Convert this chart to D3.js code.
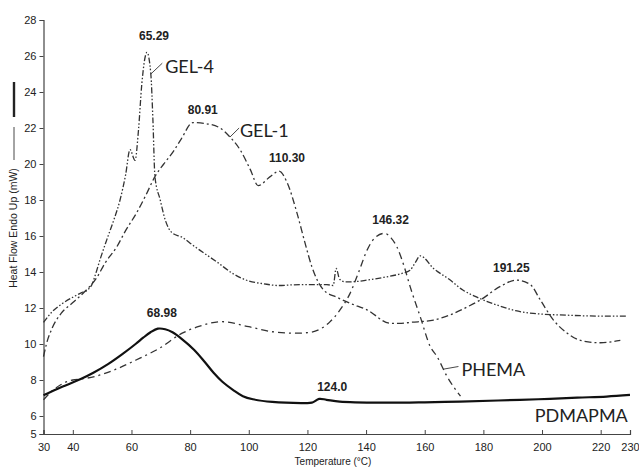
<!DOCTYPE html>
<html>
<head>
<meta charset="utf-8">
<script src="https://cdn.jsdelivr.net/npm/d3@7"></script>
<style>
  html, body { margin: 0; padding: 0; background: #fff; }
  svg { display: block; }
  .tick text { font-family: "Liberation Sans Narrow", "Arial Narrow", "Liberation Sans", Arial, sans-serif; font-size: 11px; fill: #222; }
</style>
</head>
<body>
<svg id="chart" width="639" height="470"></svg>
<script>
// DSC thermograms: temperature (°C) vs heat flow (mW)
const xTicks = [30, 40, 60, 80, 100, 120, 140, 160, 180, 200, 220, 230];
const yTicks = [5, 6, 8, 10, 12, 14, 16, 18, 20, 22, 24, 26, 28];

const gel4 = [
  [30, 11.2], [33, 11.8], [36, 12.2], [40, 12.6], [43, 12.85], [45, 13.0], [46.5, 13.3],
  [47.6, 13.8], [49.5, 14.8], [51.6, 15.8], [54, 16.9], [56.1, 18.0], [58, 19.4], [59.5, 20.8],
  [61.2, 20.2], [62.4, 21.9], [63.5, 24.4], [65.29, 26.2], [66.6, 25.0], [67.3, 22.5],
  [68, 19.3], [69.8, 18.0], [71.5, 16.9], [73.7, 16.2], [77.6, 15.9], [80, 15.6], [83.4, 15.2],
  [89.2, 14.55], [94.7, 13.9], [100, 13.5], [105, 13.35], [110, 13.25], [117.5, 13.3],
  [126.6, 13.3], [128.8, 13.25], [129.8, 14.2], [131, 13.6], [133, 13.45], [135.7, 13.46],
  [140.3, 13.55], [146, 13.7], [151.7, 13.9], [155, 14.1], [156.7, 14.5], [158.5, 14.9],
  [163, 14.2], [168.7, 13.55], [173, 13.0], [177.8, 12.6], [185.8, 12.1], [191, 11.85],
  [197, 11.7], [208.6, 11.6], [220, 11.55], [229, 11.55]
];

const gel1 = [
  [30, 9.3], [31, 10.0], [33, 10.9], [36, 11.7], [40, 12.3], [44, 12.9], [48.2, 13.7],
  [51, 14.5], [55, 15.4], [58, 16.3], [61.8, 17.3], [65, 18.3], [68, 19.3], [71, 20.0],
  [74.3, 20.7], [77, 21.4], [80.91, 22.3], [85, 22.25], [90.2, 22.0], [93.6, 21.5],
  [97, 20.8], [100.5, 19.7], [103.2, 18.8], [107.3, 19.3], [110.3, 19.6], [113, 19.0],
  [116.4, 17.3], [119.2, 15.6], [121.5, 14.3], [123.5, 13.5], [125.5, 13.0], [130, 12.6],
  [134.6, 12.26], [140.3, 11.9], [148.3, 11.15], [152, 11.15], [155, 11.2], [163, 11.33],
  [169.9, 11.7], [175, 12.1], [179, 12.45], [185.8, 13.2], [191.25, 13.55], [196, 13.3],
  [199.4, 12.45], [203.9, 11.33], [208.6, 10.6], [213.1, 10.2], [219.9, 10.07], [226.7, 10.2]
];

const phema = [
  [30, 6.9], [33, 7.4], [36, 7.75], [40, 8.0], [42.7, 8.05], [47.6, 8.2], [54.7, 8.6],
  [62.7, 9.2], [69.4, 9.75], [77.3, 10.6], [82.7, 10.96], [90.7, 11.24], [100, 10.96],
  [108, 10.68], [116, 10.6], [121, 10.65], [124, 10.8], [127.5, 11.2], [130.7, 11.8],
  [134.5, 12.8], [137.5, 14.0], [140.3, 15.2], [143, 15.9], [146.32, 16.15], [148.5, 15.9],
  [150.5, 15.4], [153, 14.3], [155, 13.2], [158.5, 11.5], [161.9, 9.85], [164.2, 9.3],
  [167.6, 8.2], [172.2, 7.1]
];

const pdmapma = [
  [30, 7.15], [36, 7.6], [42.7, 8.05], [47, 8.4], [52, 8.88], [57, 9.45], [61.4, 10.0],
  [64, 10.35], [66.5, 10.65], [68.98, 10.85], [71.5, 10.82], [74, 10.65], [77, 10.3], [81.4, 9.67],
  [85, 9.0], [88, 8.4], [91, 7.9], [94.7, 7.44], [98, 7.1], [101.4, 6.93], [108, 6.78],
  [118.6, 6.72], [121.5, 6.74], [124, 6.95], [126.5, 6.9], [131, 6.8], [145.4, 6.74],
  [160, 6.76], [172, 6.8], [185, 6.86], [198.7, 6.93], [212, 7.02], [222, 7.08], [230, 7.17]
];

// peak temperatures annotated on the curves: [temperature, heat flow of the peak]
const peakLabels = [
  { t: 65.29, v: 26.2, text: "65.29" },
  { t: 80.91, v: 22.3, text: "80.91" },
  { t: 110.30, v: 19.6, text: "110.30" },
  { t: 146.32, v: 16.15, text: "146.32" },
  { t: 191.25, v: 13.55, text: "191.25" },
  { t: 68.98, v: 10.85, text: "68.98" },
  { t: 124.0, v: 6.95, text: "124.0" }
];
const seriesNames = ["GEL-4", "GEL-1", "PHEMA", "PDMAPMA"];

const svg = d3.select("#chart");
svg.append("rect").attr("width", 639).attr("height", 470).attr("fill", "#fff");

const x = d3.scaleLinear().domain([30, 230]).range([43.5, 630]);
const y = d3.scaleLinear().domain([5, 28]).range([434, 20]);

// axes
const xAxis = d3.axisBottom(x).tickValues(xTicks).tickSize(-4).tickPadding(11).tickFormat(d3.format("d"));
const gx = svg.append("g").attr("transform", `translate(0,${y(5)})`).call(xAxis);
const yAxis = d3.axisLeft(y).tickValues(yTicks).tickSize(4).tickPadding(3).tickFormat(d3.format("d"));
const gy = svg.append("g").attr("transform", `translate(${x(30)},0)`).call(yAxis);
[gx, gy].forEach(g => {
  g.select(".domain").attr("stroke", "#444").attr("stroke-width", 1.2);
  g.selectAll(".tick line").attr("stroke", "#444");
});
gx.selectAll(".tick text").attr("dy", "0.5em");

svg.append("text")
  .attr("x", 333).attr("y", 465).attr("text-anchor", "middle")
  .style("font-family", "'Liberation Sans Narrow', 'Arial Narrow', 'Liberation Sans', sans-serif")
  .style("font-size", "10px").attr("fill", "#222")
  .text("Temperature (°C)");

// y title with the heat-flow scale marks
svg.append("text")
  .attr("transform", "translate(17,228) rotate(-90)").attr("text-anchor", "middle")
  .style("font-family", "'Liberation Sans Narrow', 'Arial Narrow', 'Liberation Sans', sans-serif")
  .style("font-size", "10.5px").attr("fill", "#222")
  .text("Heat Flow Endo Up (mW)");
svg.append("line").attr("x1", 14).attr("x2", 14).attr("y1", 127).attr("y2", 160)
  .attr("stroke", "#333").attr("stroke-width", 0.9);
svg.append("line").attr("x1", 14).attr("x2", 14).attr("y1", 82).attr("y2", 117)
  .attr("stroke", "#222").attr("stroke-width", 2.4);

const line = d3.line().x(d => x(d[0])).y(d => y(d[1])).curve(d3.curveMonotoneX);
const smoothLine = d3.line().x(d => x(d[0])).y(d => y(d[1])).curve(d3.curveCatmullRom.alpha(0.5));

const styles = [
  { data: gel4, dash: "6,2,1.5,2,1.5,2", width: 1.3, color: "#333", gen: line },
  { data: gel1, dash: "7,3,2,3", width: 1.3, color: "#333", gen: line },
  { data: phema, dash: "7,4,2,4", width: 1.3, color: "#333", gen: line },
  { data: pdmapma, dash: null, width: 2.2, color: "#111", gen: smoothLine }
];
styles.forEach(s => {
  svg.append("path").datum(s.data).attr("d", s.gen)
    .attr("fill", "none").attr("stroke", s.color).attr("stroke-width", s.width)
    .attr("stroke-dasharray", s.dash).attr("stroke-linejoin", "round");
});

// peak value labels
const labelShift = [[7, -12], [10, -9], [8, -9], [6, -9], [-5, -8], [4, -12], [13, -8]];
svg.append("g").selectAll("text").data(peakLabels).join("text")
  .attr("x", (d, i) => x(d.t) + labelShift[i][0])
  .attr("y", (d, i) => y(d.v) + labelShift[i][1])
  .attr("text-anchor", "middle")
  .style("font-family", "'Liberation Sans Narrow', 'Arial Narrow', 'Liberation Sans', sans-serif")
  .style("font-weight", "bold").style("font-size", "12px").attr("fill", "#222")
  .text(d => d.text);

// series names with leader lines: [leader start t, v], [leader end t, v], text anchor point
const nameSpots = [
  { from: [66.6, 25.0], to: [70.5, 25.6], tx: 71.5, ty: 25.05 },
  { from: [93.6, 21.5], to: [96.7, 22.0], tx: 97.0, ty: 21.5 },
  { from: [166.3, 8.6], to: [171.5, 8.75], tx: 172.5, ty: 8.25 },
  { from: null, to: null, tx: 197.5, ty: 5.65 }
];
nameSpots.forEach((n, i) => {
  if (n.from) {
    svg.append("line")
      .attr("x1", x(n.from[0])).attr("y1", y(n.from[1]))
      .attr("x2", x(n.to[0])).attr("y2", y(n.to[1]))
      .attr("stroke", "#333").attr("stroke-width", 0.9);
  }
  svg.append("text").attr("x", x(n.tx)).attr("y", y(n.ty))
    .style("font-family", "Lato, 'Open Sans', sans-serif").style("font-size", "18px")
    .attr("fill", "#222").text(seriesNames[i]);
});
</script>
</body>
</html>
